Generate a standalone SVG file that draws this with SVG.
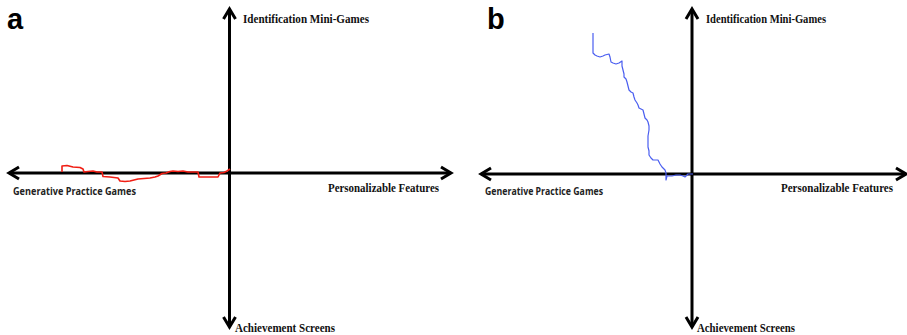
<svg xmlns="http://www.w3.org/2000/svg" width="907" height="335" viewBox="0 0 907 335">
<style>
.axis{stroke:#000;stroke-width:3;fill:none}
.serif{font-family:"Liberation Serif","Times New Roman",serif;font-weight:bold;font-size:12px;fill:#111}
.sans{font-family:"Open Sans","Liberation Sans",sans-serif;font-weight:bold;font-size:10.5px;fill:#222}
.panel{font-family:"Liberation Sans",Arial,sans-serif;font-weight:bold;font-size:29px;fill:#000}
.red{stroke:#f01e14;stroke-width:1.6;fill:none;stroke-linejoin:round}
.blue{stroke:#4a5ef0;stroke-width:1.2;fill:none;stroke-linejoin:round}
</style>
<defs>
<marker id="chev" viewBox="0 0 13 16" refX="11.5" refY="8" markerWidth="13" markerHeight="16" markerUnits="userSpaceOnUse" orient="auto" overflow="visible">
<path d="M1.5,2 L11.5,8 L1.5,14" fill="none" stroke="#000" stroke-width="3"/>
</marker>
</defs>
<g id="panel-a">
<text class="panel" x="7" y="29">a</text>
<g id="connectors-a">
<line class="axis" x1="229.5" y1="173" x2="9" y2="173" marker-end="url(#chev)"/>
<line class="axis" x1="229.5" y1="173" x2="451" y2="173" marker-end="url(#chev)"/>
<line class="axis" x1="229.5" y1="173" x2="229.5" y2="9" marker-end="url(#chev)"/>
<line class="axis" x1="229.5" y1="173" x2="229.5" y2="327" marker-end="url(#chev)"/>
</g>
<g id="a-top"><text class="serif" x="243" y="23" textLength="126" lengthAdjust="spacingAndGlyphs">Identification Mini-Games</text></g>
<g id="a-bottom"><text class="serif" x="235" y="332" textLength="100" lengthAdjust="spacingAndGlyphs">Achievement Screens</text></g>
<g id="a-right"><text class="serif" x="328" y="192" textLength="111" lengthAdjust="spacingAndGlyphs">Personalizable Features</text></g>
<g id="a-left"><text class="sans" x="13" y="195" textLength="123" lengthAdjust="spacingAndGlyphs">Generative Practice Games</text></g>
<g id="a-trace">
<polyline class="red" points="62,172 62,166 67,165.5 73,167 80,167.5 83,169 84,172 88,171.5 93,171 97,172 102,172 103,176.5 110,177 118,178 120,181 125,181.5 130,181 134,180 138,179 144,178.5 150,178 155,177 158,176 162,173.5 166,173 170,171.5 173,171 178,171.5 183,171 188,172 193,172 198,172 199,177 205,177 212,177 218,177 220,173 224,172.5 227,171 230,169"/>
</g>
</g>
<g id="panel-b">
<text class="panel" x="487" y="29">b</text>
<g id="connectors-b">
<line class="axis" x1="692" y1="174" x2="481" y2="174" marker-end="url(#chev)"/>
<line class="axis" x1="692" y1="174" x2="906" y2="174" marker-end="url(#chev)"/>
<line class="axis" x1="692" y1="174" x2="692" y2="9" marker-end="url(#chev)"/>
<line class="axis" x1="692" y1="174" x2="692" y2="327" marker-end="url(#chev)"/>
</g>
<g id="b-top"><text class="serif" x="706" y="23" textLength="120" lengthAdjust="spacingAndGlyphs">Identification Mini-Games</text></g>
<g id="b-bottom"><text class="serif" x="697" y="332" textLength="98" lengthAdjust="spacingAndGlyphs">Achievement Screens</text></g>
<g id="b-right"><text class="serif" x="781" y="192" textLength="112" lengthAdjust="spacingAndGlyphs">Personalizable Features</text></g>
<g id="b-left"><text class="sans" x="485" y="195" textLength="118" lengthAdjust="spacingAndGlyphs">Generative Practice Games</text></g>
<g id="b-trace">
<polyline class="blue" points="593,33 593,53 595,55 597,56 600,57 603,56 605,55 609,54 610,57 611,62 613,63 616,64 619,63 622,61 622,66 623,70 624,74 624,77 626,79 627,82 628,86 629,90 631,92 633,93 634,97 635,100 637,103 638,105 639,108 641,109 643,110 644,114 645,118 647,120 648,122 649,126 649,130 648,136 648,142 648,147 649,151 649,155 651,158 653,160 656,160 658,160 660,164 662,167 664,169 665,170 666,173 666,180 667,176 672,176 676,175 680,175 683,176 685,177 687,175 688,174 693,174"/>
</g>
</g>
</svg>
